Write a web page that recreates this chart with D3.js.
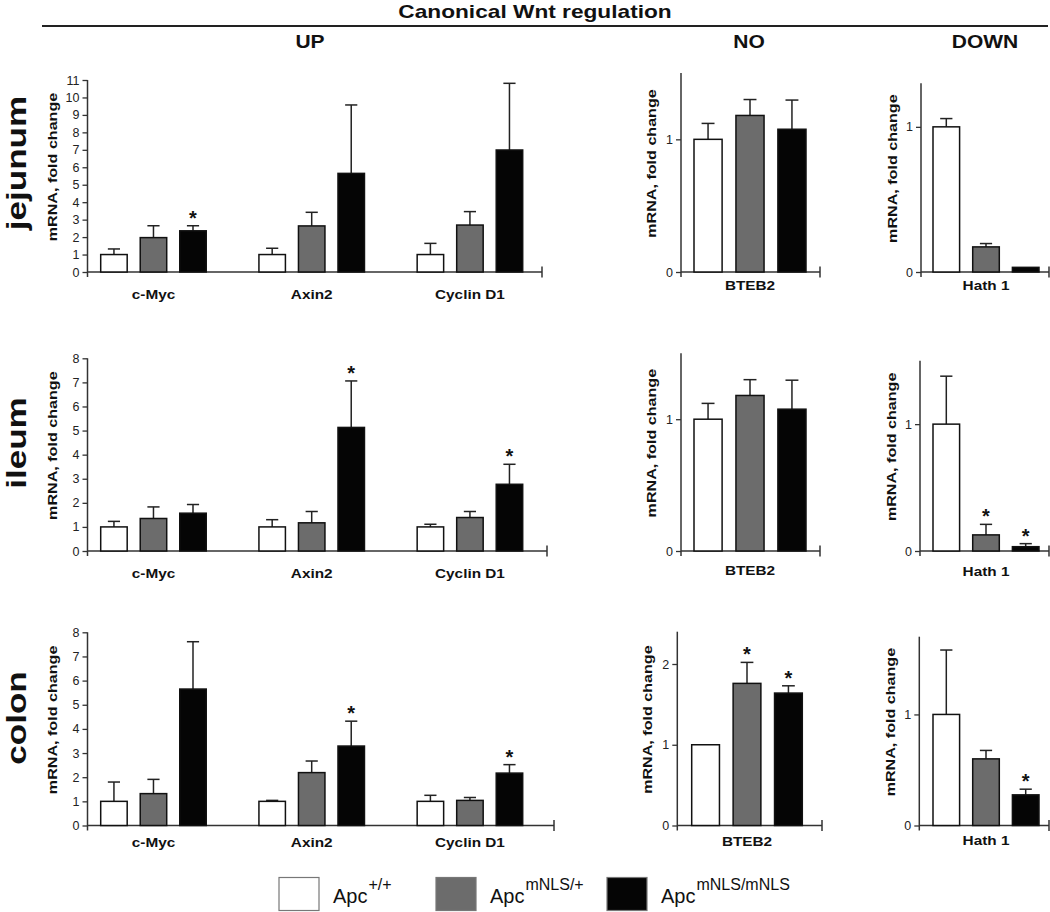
<!DOCTYPE html>
<html><head><meta charset="utf-8">
<script src="https://cdn.jsdelivr.net/npm/d3@7"></script>
<style>
html,body{margin:0;padding:0;background:#fff;}
svg{display:block;}
</style></head>
<body>
<svg id="chart" width="1050" height="912"></svg>
<script>
// ---------------- DATA ----------------
const title = "Canonical Wnt regulation";
const sections = ["UP", "NO", "DOWN"];
const tissues = ["jejunum", "ileum", "colon"];
const seriesBase = "Apc";
const seriesSup = ["+/+", "mNLS/+", "mNLS/mNLS"];
const upGenes = ["c-Myc", "Axin2", "Cyclin D1"];
const noGenes = ["BTEB2"];
const downGenes = ["Hath 1"];
const yLabel = "mRNA, fold change";

// means [tissue][gene][series]
const upMeans = [
  [[1.0, 1.97, 2.36], [1.0, 2.64, 5.65], [1.0, 2.69, 6.99]],
  [[1.0, 1.35, 1.57], [1.0, 1.17, 5.13], [1.0, 1.39, 2.77]],
  [[1.0, 1.32, 5.65], [1.0, 2.19, 3.29], [1.0, 1.04, 2.17]]
];
const upSem = [
  [[0.32, 0.68, 0.29], [0.36, 0.78, 3.92], [0.64, 0.77, 3.82]],
  [[0.23, 0.48, 0.36], [0.30, 0.47, 1.93], [0.11, 0.25, 0.83]],
  [[0.80, 0.59, 1.96], [0.04, 0.48, 1.03], [0.25, 0.12, 0.35]]
];
const upSig = [
  [[0, 0, 1], [0, 0, 0], [0, 0, 0]],
  [[0, 0, 0], [0, 0, 1], [0, 0, 1]],
  [[0, 0, 0], [0, 0, 1], [0, 0, 1]]
];
const noMeans = [[[1.0, 1.18, 1.076]], [[1.0, 1.18, 1.076]], [[1.0, 1.76, 1.64]]];
const noSem   = [[[0.12, 0.12, 0.22]], [[0.12, 0.12, 0.22]], [[0.0, 0.26, 0.09]]];
const noSig   = [[[0, 0, 0]], [[0, 0, 0]], [[0, 1, 1]]];
const downMeans = [[[1.0, 0.173, 0.032]], [[1.0, 0.127, 0.034]], [[1.0, 0.60, 0.276]]];
const downSem   = [[[0.057, 0.023, 0.0]], [[0.378, 0.083, 0.024]], [[0.58, 0.076, 0.051]]];
const downSig   = [[[0, 0, 0]], [[0, 1, 1]], [[0, 0, 1]]];

const upYMax = [11, 8, 8];
const noYMax = [1.5, 1.5, 2.4];
const downYMax = [1.3, 1.5, 1.7];
const upTicks = [[0,1,2,3,4,5,6,7,8,9,10,11], [0,1,2,3,4,5,6,7,8], [0,1,2,3,4,5,6,7,8]];
const noTicks = [[0, 1], [0, 1], [0, 1, 2]];
const downTicks = [[0, 1], [0, 1], [0, 1]];

// ---------------- LAYOUT ----------------
const FONT = "'Liberation Sans', Arial, Helvetica, sans-serif";
const fills = ["#ffffff", "#6c6c6c", "#050505"];
const rowZero = [272, 551, 825.5];
const rowLabelY = [163, 443, 718];
const panels = [
  { means: upMeans, sem: upSem, sig: upSig, genes: upGenes, ymax: upYMax, ticks: upTicks,
    top: [80, 358.3, 632.3], axisX: [87.5, 87.5, 87.5], xEnd: [542, 547, 554],
    bars: [[100.7, 522.7], [100.7, 522.7], [100.7, 522.7]], labOff: [27, 27, 21], yLabOff: -31, pad: 0.333 },
  { means: noMeans, sem: noSem, sig: noSig, genes: noGenes, ymax: noYMax, ticks: noTicks,
    top: [73, 353.3, 631.7], axisX: [681, 681, 677.3], xEnd: [820, 820, 822],
    bars: [[694, 806], [694, 806], [691.7, 802.3]], labOff: [18, 24, 20], yLabOff: -25, pad: 0 },
  { means: downMeans, sem: downSem, sig: downSig, genes: downGenes, ymax: downYMax, ticks: downTicks,
    top: [83.3, 360.7, 636.7], axisX: [921, 920, 919.3], xEnd: [1049, 1049, 1049],
    bars: [[933, 1039], [933, 1039], [933, 1039]], labOff: [18, 25, 19], yLabOff: -24, pad: 0 }
];
const sectionX = [310, 749, 985];

const svg = d3.select("#chart");

function txt(g, x, y, str, o) {
  return g.append("text")
    .attr("transform", `translate(${x},${y}) rotate(${o.rot || 0}) scale(${o.sx || 1},1)`)
    .attr("text-anchor", o.anchor || "middle")
    .style("font-family", FONT)
    .style("font-size", (o.size || 13) + "px")
    .style("font-weight", o.weight || "bold")
    .attr("fill", o.fill || "#111")
    .text(str);
}

// Header
txt(svg, 535, 17.5, title, { size: 18, sx: 1.26 });
svg.append("line").attr("x1", 42).attr("x2", 1048).attr("y1", 26).attr("y2", 26)
  .attr("stroke", "#222").attr("stroke-width", 2);
sections.forEach((s, i) => txt(svg, sectionX[i], 48, s, { size: 17.5, sx: 1.2 }));

// Row labels
tissues.forEach((t, r) => txt(svg, 26, rowLabelY[r], t, { size: 27, sx: 1.3, rot: -90 }));

const series = d3.range(seriesSup.length);

tissues.forEach((t, r) => {
  panels.forEach((p, pi) => {
    const g = svg.append("g");
    const zero = rowZero[r], top = p.top[r], ax = p.axisX[r];
    const y = d3.scaleLinear().domain([0, p.ymax[r]]).range([zero, top]);
    const x0 = d3.scaleBand().domain(p.genes).range(p.bars[r]).paddingInner(p.pad).paddingOuter(0);
    const x1 = d3.scaleBand().domain(series).range([0, x0.bandwidth()]).paddingInner(0.33).paddingOuter(0);

    // y axis
    const yAxis = d3.axisLeft(y).tickValues(p.ticks[r]).tickFormat(d3.format("d"))
      .tickSize(5).tickSizeOuter(0).tickPadding(3);
    const ya = g.append("g").attr("transform", `translate(${ax},0)`).call(yAxis);
    ya.select(".domain").remove();
    ya.selectAll(".tick line").attr("stroke", "#333").attr("stroke-width", 1.3);
    ya.selectAll(".tick text").style("font-family", FONT).style("font-size", "12.5px")
      .attr("fill", "#222");
    g.append("line").attr("x1", ax).attr("x2", ax).attr("y1", top).attr("y2", zero + 5)
      .attr("stroke", "#333").attr("stroke-width", 1.5);
    // x axis
    g.append("line").attr("x1", ax).attr("x2", p.xEnd[r]).attr("y1", zero).attr("y2", zero)
      .attr("stroke", "#333").attr("stroke-width", 1.5);
    g.append("line").attr("x1", p.xEnd[r]).attr("x2", p.xEnd[r]).attr("y1", zero - 5.5).attr("y2", zero + 5.5)
      .attr("stroke", "#333").attr("stroke-width", 1.5);

    // y label
    txt(g, ax + p.yLabOff, (top + zero) / 2 - 9, yLabel, { size: 13, sx: 1.24, rot: -90 });

    p.genes.forEach((gene, gi) => {
      const gx = x0(gene);
      const bw = x1.bandwidth();
      const cap = bw * 0.46;
      series.forEach(s => {
        const m = p.means[r][gi][s], e = p.sem[r][gi][s];
        const bx = gx + x1(s);
        const cx = bx + bw / 2;
        if (e > 0) {
          g.append("line").attr("x1", cx).attr("x2", cx).attr("y1", y(m)).attr("y2", y(m + e))
            .attr("stroke", "#222").attr("stroke-width", 1.5);
          g.append("line").attr("x1", cx - cap / 2).attr("x2", cx + cap / 2)
            .attr("y1", y(m + e)).attr("y2", y(m + e))
            .attr("stroke", "#222").attr("stroke-width", 1.5);
        }
        g.append("rect").attr("x", bx).attr("y", y(m)).attr("width", bw)
          .attr("height", y(0) - y(m))
          .attr("fill", fills[s]).attr("stroke", "#111").attr("stroke-width", 1.5);
        if (p.sig[r][gi][s]) {
          txt(g, cx, y(m + e) - 1, "*", { size: 20, sx: 1 });
        }
      });
      txt(g, gx + x0.bandwidth() / 2, zero + p.labOff[r], gene, { size: 13, sx: 1.18 });
    });
  });
});

// Legend
const legendX = [279, 436, 607];
series.forEach(s => {
  const lx = legendX[s];
  svg.append("rect").attr("x", lx).attr("y", 877.5).attr("width", 40).attr("height", 33)
    .attr("fill", fills[s]).attr("stroke", "#777").attr("stroke-width", 1.2);
  const t = svg.append("text").attr("x", lx + 54).attr("y", 903)
    .style("font-family", FONT).style("font-size", "20px").attr("fill", "#111");
  t.append("tspan").text(seriesBase);
  t.append("tspan").attr("dx", 1).attr("dy", -13.5).style("font-size", "16px").text(seriesSup[s]);
});
</script>
</body></html>
